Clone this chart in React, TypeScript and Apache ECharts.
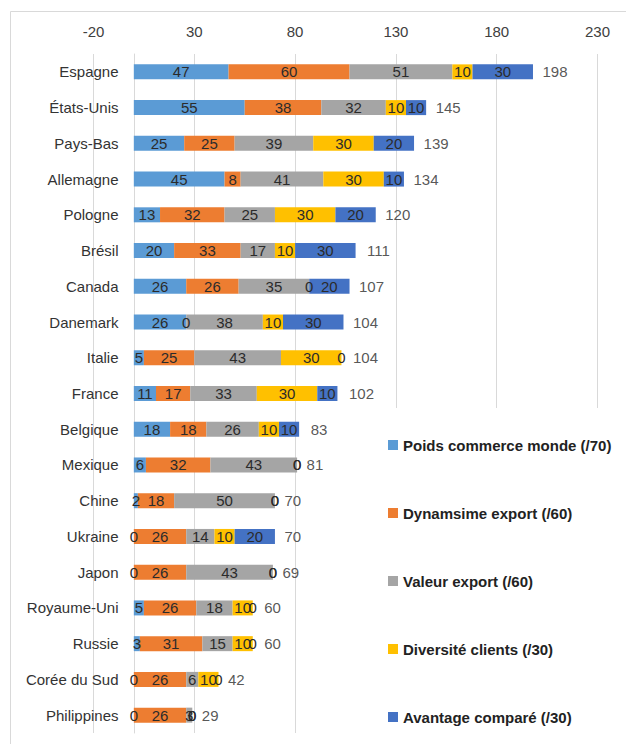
import React, { useEffect, useRef } from "react";
import * as echarts from "echarts";

const categories = [
  "Espagne", "États-Unis", "Pays-Bas", "Allemagne", "Pologne", "Brésil", "Canada",
  "Danemark", "Italie", "France", "Belgique", "Mexique", "Chine", "Ukraine", "Japon",
  "Royaume-Uni", "Russie", "Corée du Sud", "Philippines",
];
const poids = [47, 55, 25, 45, 13, 20, 26, 26, 5, 11, 18, 6, 2, 0, 0, 5, 3, 0, 0];
const dynamisme = [60, 38, 25, 8, 32, 33, 26, 0, 25, 17, 18, 32, 18, 26, 26, 26, 31, 26, 26];
const valeur = [51, 32, 39, 41, 25, 17, 35, 38, 43, 33, 26, 43, 50, 14, 43, 18, 15, 6, 3];
const diversite = [10, 10, 30, 30, 30, 10, 0, 10, 30, 30, 10, 0, 0, 10, 0, 10, 10, 10, 0];
const avantage = [30, 10, 20, 10, 20, 30, 20, 30, 0, 10, 10, 0, 0, 20, 0, 0, 0, 0, 0];
const totals = [198, 145, 139, 134, 120, 111, 107, 104, 104, 102, 83, 81, 70, 70, 69, 60, 60, 42, 29];
const seriesNames = [
  "Poids commerce monde (/70)",
  "Dynamsime export (/60)",
  "Valeur export (/60)",
  "Diversité clients (/30)",
  "Avantage comparé (/30)",
];
const seriesValues = [poids, dynamisme, valeur, diversite, avantage];
const colors = ["#5B9BD5", "#ED7D31", "#A5A5A5", "#FFC000", "#4472C4"];
const axisMin = -20;
const axisMax = 230;
const axisStep = 50;

const FONT = "'Liberation Sans', Arial, sans-serif";

export default function App() {
  const ref = useRef<HTMLDivElement>(null);
  useEffect(() => {
    if (!ref.current) return;
    const chart = echarts.init(ref.current, null, { renderer: "svg" });
    const barSeries = seriesNames.map((name, i) => ({
      name,
      type: "bar",
      stack: "total",
      barWidth: 15,
      data: seriesValues[i],
      itemStyle: { color: colors[i] },
      label: {
        show: true,
        position: "inside",
        color: "#2b2b2b",
        fontSize: 15,
        fontFamily: FONT,
        formatter: (p: any) => String(p.value),
      },
      labelLayout: { hideOverlap: false },
      emphasis: { disabled: true },
    }));
    chart.setOption({
      animation: false,
      backgroundColor: "#ffffff",
      textStyle: { fontFamily: FONT },
      grid: {
        left: 93.5,
        right: 28.5,
        top: 54,
        bottom: 11,
        containLabel: false,
        outerBoundsMode: "none",
      },
      graphic: [
        {
          type: "rect",
          silent: true,
          z: -10,
          shape: { x: 10.5, y: 11.5, width: 700, height: 800 },
          style: { fill: "none", stroke: "#D9D9D9", lineWidth: 1 },
        },
      ],
      legend: {
        orient: "vertical",
        left: 385,
        top: 408,
        padding: [28, 6, 8, 3],
        itemGap: 50,
        itemWidth: 10,
        itemHeight: 10,
        icon: "rect",
        backgroundColor: "#ffffff",
        data: seriesNames,
        textStyle: {
          fontSize: 15,
          fontWeight: "bold",
          color: "#222222",
          lineHeight: 18,
          fontFamily: FONT,
        },
      },
      xAxis: {
        type: "value",
        position: "top",
        min: axisMin,
        max: axisMax,
        interval: axisStep,
        axisLine: { show: false },
        axisTick: { show: false },
        axisLabel: { color: "#404040", fontSize: 15, margin: 15, fontFamily: FONT },
        splitLine: { show: true, lineStyle: { color: "#D9D9D9", width: 1 } },
      },
      yAxis: {
        type: "category",
        inverse: true,
        data: categories,
        axisLine: { show: true, onZero: true, lineStyle: { color: "#D9D9D9", width: 1 } },
        axisTick: { show: false },
        axisLabel: { color: "#333333", fontSize: 15, margin: -25, fontFamily: FONT },
        splitLine: { show: false },
      },
      series: [
        ...barSeries,
        {
          name: "Total",
          type: "scatter",
          symbolSize: 1,
          itemStyle: { color: "rgba(0,0,0,0)" },
          data: totals.map((t, i) => [t, categories[i]]),
          label: {
            show: true,
            position: "right",
            distance: 9,
            color: "#2b2b2b",
            fontSize: 15,
            fontFamily: FONT,
            formatter: (p: any) => String(p.value[0]),
          },
          emphasis: { disabled: true },
          z: 5,
        },
      ],
    });
    return () => chart.dispose();
  }, []);
  return (
    <div
      ref={ref}
      style={{ position: "absolute", left: 0, top: 0, width: 626, height: 744, background: "#fff" }}
    />
  );
}
